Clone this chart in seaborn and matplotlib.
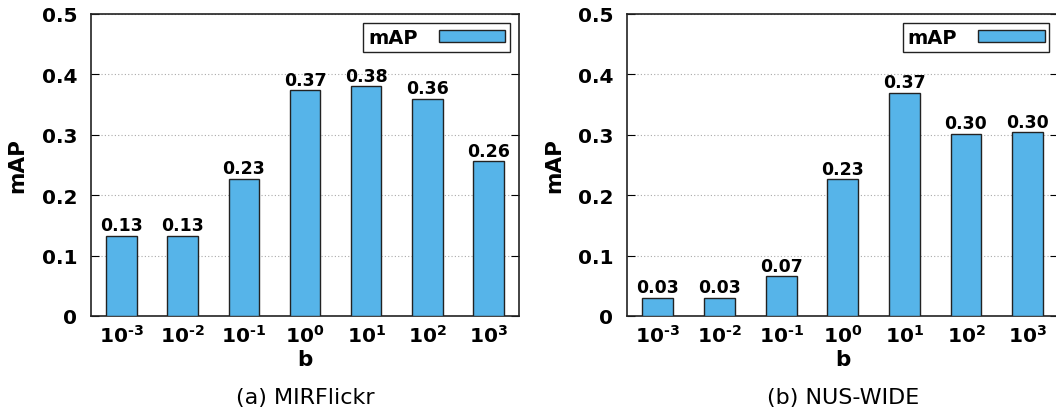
import numpy as np
import pandas as pd
import seaborn as sns
import matplotlib.pyplot as plt
import matplotlib.patches as mpatches

b_labels = ['$10^{\u20103}$', '$10^{\u20102}$', '$10^{\u20101}$', '$10^{0}$', '$10^{1}$', '$10^{2}$', '$10^{3}$']
map_mirflickr = [0.133, 0.133, 0.227, 0.374, 0.380, 0.360, 0.256]
map_nuswide = [0.030, 0.030, 0.066, 0.226, 0.370, 0.302, 0.304]
captions = ['(a) MIRFlickr', '(b) NUS-WIDE']

sns.set_style("ticks")
plt.rcParams['font.family'] = ['DejaVu Sans']
plt.rcParams['mathtext.default'] = 'bf'
for k in ['text.color', 'axes.labelcolor', 'xtick.color', 'ytick.color']:
    plt.rcParams[k] = 'black'

bar_color = '#56B4E9'

fig = plt.figure(figsize=(10.56, 4.14), dpi=100)
ax1 = fig.add_axes([0.0862, 0.2343, 0.4053, 0.7295])
ax2 = fig.add_axes([0.5938, 0.2343, 0.4085, 0.7295])

for ax, vals, cap in zip([ax1, ax2], [map_mirflickr, map_nuswide], captions):
    df = pd.DataFrame({'b': b_labels, 'mAP': vals})
    sns.barplot(data=df, x='b', y='mAP', color=bar_color, saturation=1,
                width=0.5, edgecolor='#222222', linewidth=1.0, ax=ax, zorder=3)
    ax.bar_label(ax.containers[0], fmt='%.2f', padding=1,
                 fontsize=12.5, fontweight='bold')

    ax.set_xlim(-0.5, 6.5)
    ax.set_ylim(0, 0.5)
    ax.set_yticks([0, 0.1, 0.2, 0.3, 0.4, 0.5])
    ax.set_yticklabels(['0', '0.1', '0.2', '0.3', '0.4', '0.5'])
    ax.yaxis.grid(True, linestyle=(0, (1, 2)), color='#aaaaaa', linewidth=0.8)
    ax.set_axisbelow(True)
    ax.tick_params(axis='y', direction='in', length=6, right=True,
                   labelsize=14.5, pad=10)
    ax.tick_params(axis='x', length=0, labelsize=14.5, pad=6)
    for lab in ax.get_yticklabels():
        lab.set_fontweight('bold')
    for s in ax.spines.values():
        s.set_linewidth(1.2)
        s.set_color('#222222')

    ax.set_xlabel('b', fontsize=15.5, fontweight='bold', labelpad=2)
    ax.set_ylabel('mAP', fontsize=15.5, fontweight='bold', labelpad=10)

    handle = mpatches.Patch(facecolor=bar_color, edgecolor='#222222', linewidth=1.0)
    leg = ax.legend([handle], ['mAP'], loc='upper right', markerfirst=False,
                    fancybox=False, framealpha=1, edgecolor='#222222',
                    handlelength=3.4, handleheight=0.55, handletextpad=1.1,
                    borderpad=0.25, borderaxespad=0, bbox_to_anchor=(0.979, 0.97),
                    prop={'weight': 'bold', 'size': 14})
    leg.get_frame().set_linewidth(1.0)

    ax.text(0.5, -0.268, cap, transform=ax.transAxes, ha='center', va='center',
            fontsize=16)

fig.savefig('out.png', dpi=100)
